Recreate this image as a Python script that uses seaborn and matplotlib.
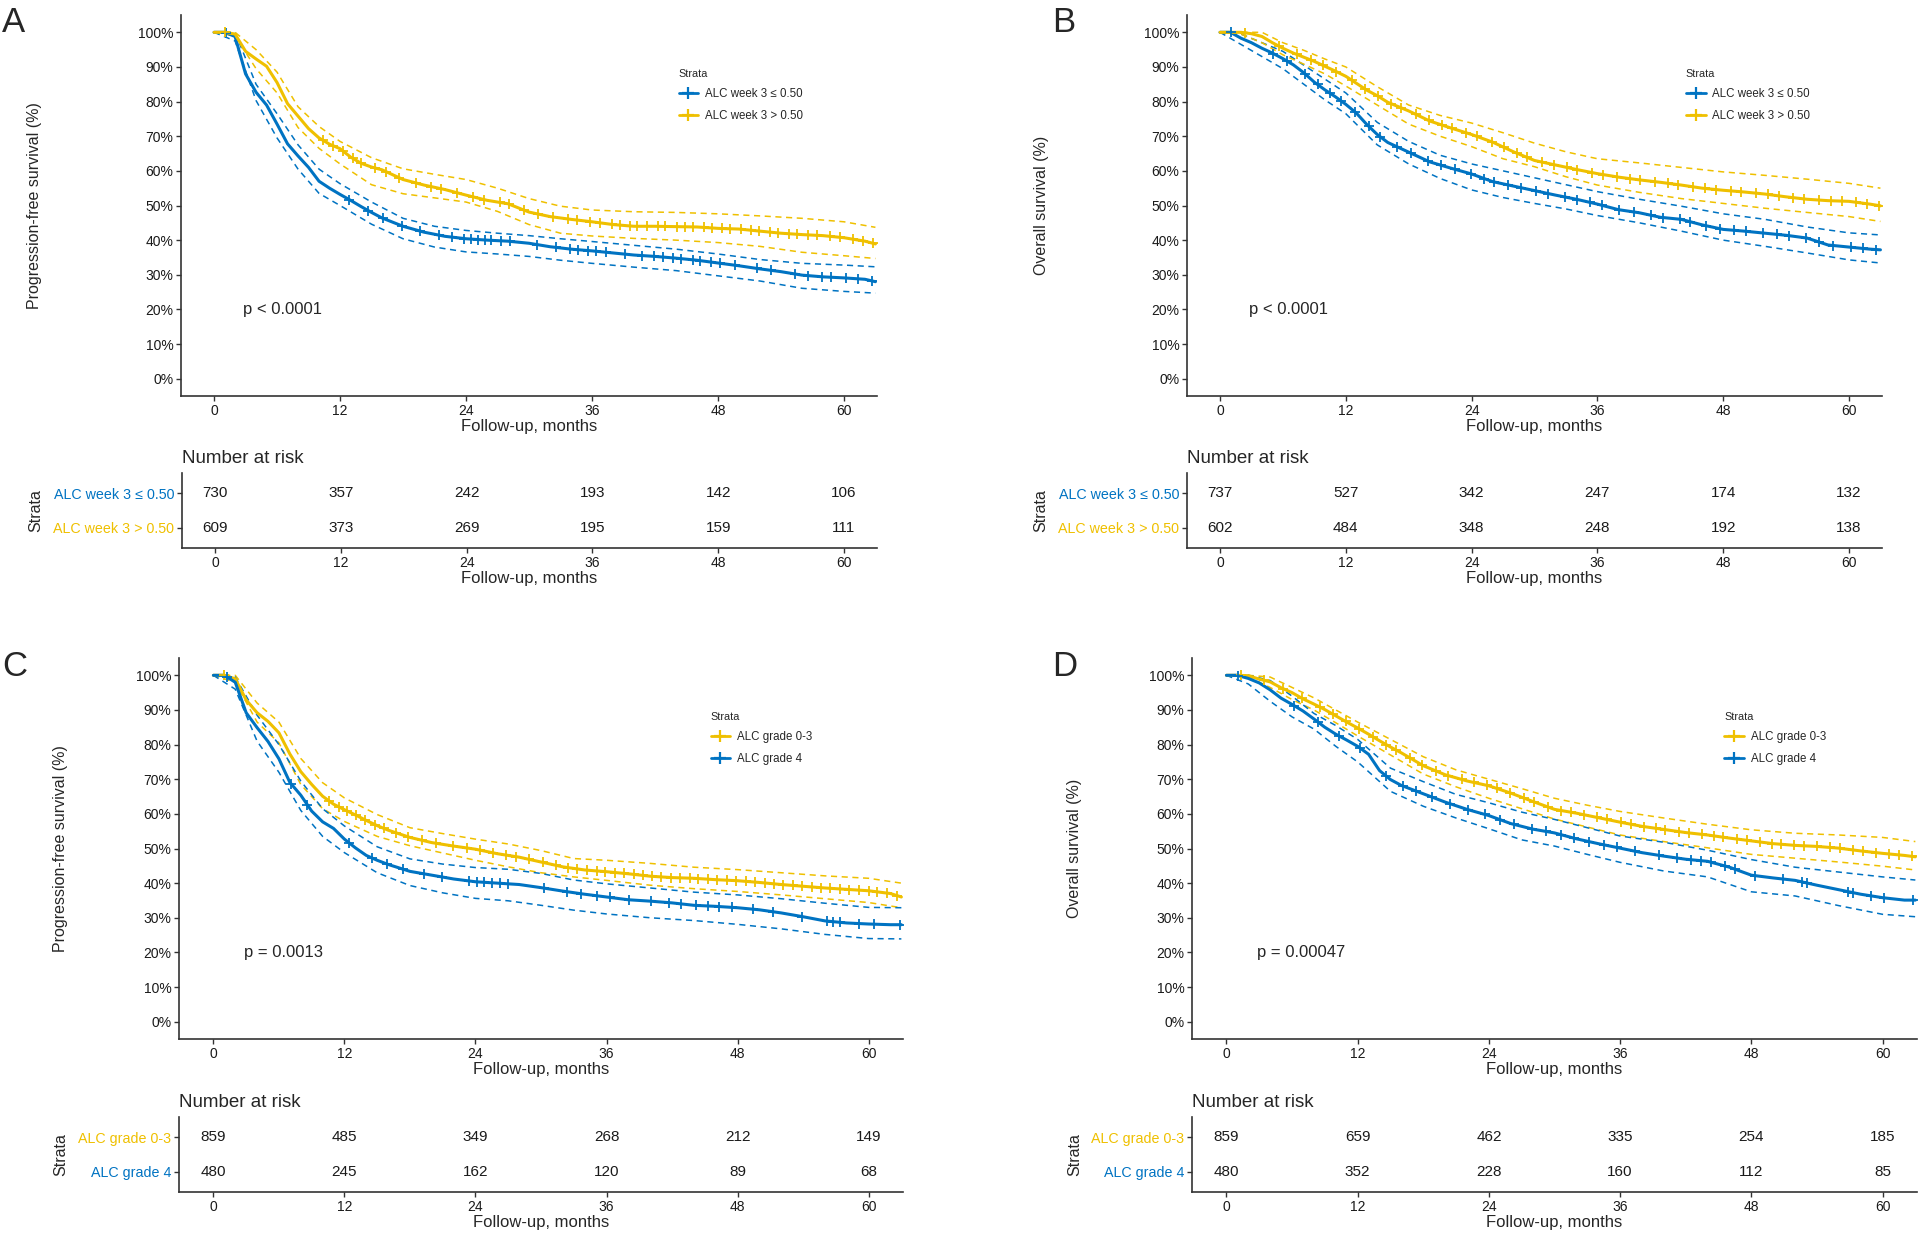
import numpy as np
import matplotlib
matplotlib.use("Agg")
import matplotlib.pyplot as plt
from matplotlib.lines import Line2D
import seaborn as sns

BLUE = "#0073C2"
YELLOW = "#EFC000"

# time grids (months) for the estimates and for the confidence bands
T = [0, 1, 2, 3, 4, 5, 6, 7, 8, 9, 10, 11, 12, 13, 14, 15, 16, 18, 20, 22, 24,
     26, 28, 30, 32, 34, 36, 38, 40, 42, 44, 46, 48, 50, 52, 54, 56, 58, 60, 62, 63]
TC = [0, 2, 4, 6, 8, 10, 12, 15, 18, 21, 24, 27, 30, 33, 36, 40, 44, 48, 52, 56, 60, 63]
RISK_T = [0, 12, 24, 36, 48, 60]

# ---- panel A: PFS, ALC week 3
A_LOW_EST = [100, 100, 98.8, 88, 82.7, 79, 73.5, 67.8, 64.3, 61, 57, 55, 53.2, 51.5, 49.7, 48, 46.4,
             44, 42.3, 41.1, 40.4, 40, 39.7, 39.1, 38.1, 37.4, 36.9, 36.3, 35.7, 35.3, 34.8, 34.2,
             33.4, 32.6, 31.7, 30.9, 29.9, 29.4, 29.1, 28.7, 28]
A_LOW_UP = [100, 100, 85, 76.5, 67.5, 60.5, 56.3, 51, 46.3, 44, 42.8, 42, 41.3, 40.4, 39.6, 38.5,
            37.4, 36, 34.4, 33.3, 32.8, 32.3]
A_LOW_LO = [100, 97.5, 80.3, 69.5, 60.5, 53.5, 50, 44.6, 40.4, 38, 36.6, 36, 35.3, 34.2, 33.3, 32.2,
            31.2, 29.7, 28.2, 26.1, 25.2, 24.7]
A_LOW_CENS = [1.1, 12.9, 14.7, 16.1, 17.9, 19.6, 21.4, 22.7, 23.8, 24.5, 25.1, 25.8, 26.4, 27.3,
              28.2, 30.8, 32.6, 33.9, 34.7, 35.6, 36.4, 37.3, 39.1, 40.8, 41.9, 42.8, 43.7, 44.5,
              45.6, 46.3, 47.3, 48.2, 49.6, 51.7, 53.1, 55.3, 56.6, 57.9, 58.8, 60.2, 61.3, 62.7]
A_HIGH_EST = [100, 100, 99.5, 94.5, 92.3, 90.2, 85.5, 79.4, 75.8, 72.2, 69.5, 67.7, 66.4, 64, 62.2,
              61.1, 60.3, 57.5, 55.9, 54.6, 53, 51.5, 50.5, 48.1, 46.8, 46, 45.3, 44.5, 44, 44, 43.9,
              43.8, 43.4, 43.2, 42.6, 42, 41.6, 41.3, 40.7, 39.7, 38.9]
A_HIGH_UP = [100, 100, 95, 88.5, 78.5, 72.8, 68.5, 63.8, 60.6, 59, 57.5, 55, 52, 49.8, 48.7, 48.2,
             48, 47.6, 47, 46.3, 45.3, 43.7]
A_HIGH_LO = [100, 99, 89.5, 82.5, 72.5, 66.5, 62, 56, 53.4, 52.2, 51, 48.3, 44.5, 42, 41.2, 40.5,
             40, 39.3, 38.2, 36.5, 35.5, 34.7]
A_HIGH_CENS = [1.0, 10.4, 11.3, 12.3, 13.2, 14.0, 15.3, 16.4, 17.6, 19.2, 20.7, 21.6, 23.1, 24.7,
               25.7, 27.2, 28.1, 29.5, 30.9, 32.3, 33.7, 34.6, 35.8, 36.8, 37.9, 38.7, 39.6, 40.3,
               41.2, 42.3, 43.0, 44.1, 44.9, 45.6, 46.7, 47.4, 48.4, 49.1, 50.2, 51.1, 51.9, 53.0,
               53.7, 54.8, 55.5, 56.6, 57.4, 58.7, 59.6, 60.9, 61.8, 62.8]
A_RISK_LOW = [730, 357, 242, 193, 142, 106]
A_RISK_HIGH = [609, 373, 269, 195, 159, 111]

# ---- panel B: OS, ALC week 3
B_LOW_EST = [100, 100, 98.3, 97, 95.4, 94, 92.4, 90.6, 88.3, 85.6, 83.4, 81.4, 79.2, 76.7, 73.4,
             70.5, 68.2, 65.4, 62.6, 60.8, 59.1, 56.9, 55.6, 54.3, 53, 51.8, 50.4, 48.8, 47.9, 46.6,
             46, 44.4, 43.1, 42.6, 42, 41.4, 40.6, 38.6, 38, 37.4, 37.2]
B_LOW_UP = [100, 99.5, 97, 94.5, 90.5, 86.5, 82.5, 74, 68.5, 64.5, 62, 60, 58, 56, 54, 51.8, 49.8,
            47.6, 46, 43.8, 42.1, 41.5]
B_LOW_LO = [100, 96.5, 93, 89.5, 85, 80.5, 76.5, 67.5, 62, 57.8, 54.5, 52.3, 50.6, 49, 47.1, 45,
            42.6, 40, 38.2, 36.3, 34.3, 33.4]
B_LOW_CENS = [1.0, 5.1, 6.4, 8.1, 9.3, 10.5, 11.5, 12.9, 14.2, 15.3, 16.9, 18.2, 19.8, 21.1, 22.4,
              23.9, 25.2, 26.1, 27.5, 28.7, 30.1, 31.3, 32.9, 34.1, 35.3, 36.4, 38.1, 39.5, 41.1,
              42.3, 43.9, 44.8, 46.4, 47.7, 49.0, 50.2, 51.8, 53.1, 54.3, 55.9, 57.1, 58.5, 60.2,
              61.3, 62.6]
B_HIGH_EST = [100, 100, 100, 99.6, 98.8, 97, 95.4, 94, 92.8, 91.6, 90.2, 88.8, 87.3, 85.3, 83.3,
              81.7, 79.8, 77.3, 74.4, 72.4, 70.5, 68.3, 65.5, 63, 61.7, 60.4, 59.2, 58.2, 57.4, 56.7,
              55.9, 55, 54.4, 53.9, 53.3, 52.5, 51.8, 51.4, 51.2, 50.4, 49.9]
B_HIGH_UP = [100, 100, 100, 97, 94.8, 92.3, 90, 84.3, 79, 76, 73.8, 71, 68, 65.5, 63.5, 62.3, 61,
             59.7, 58.7, 57.6, 56.4, 55]
B_HIGH_LO = [100, 99.5, 97, 93.5, 90.8, 88, 84.5, 79, 73.5, 70, 67, 63.5, 61.2, 58.3, 55.9, 53.8,
             52, 50.6, 49.2, 48, 46.8, 45.4]
B_HIGH_CENS = [2.4, 5.6, 7.3, 8.7, 9.8, 11.1, 12.6, 13.8, 15.1, 16.3, 17.3, 18.7, 19.9, 21.2, 22.1,
               23.5, 24.5, 25.9, 27.1, 28.3, 29.3, 30.7, 31.9, 33.1, 34.1, 35.5, 36.5, 37.9, 39.1,
               40.1, 41.5, 42.7, 43.7, 45.1, 46.3, 47.3, 48.7, 49.7, 51.1, 52.3, 53.3, 54.7, 55.7,
               57.1, 58.3, 59.3, 60.7, 61.7, 62.9]
B_RISK_LOW = [737, 527, 342, 247, 174, 132]
B_RISK_HIGH = [602, 484, 348, 248, 192, 138]

# ---- panel C: PFS, ALC grade
C_G03_EST = [100, 100, 99, 92.9, 89.2, 86.7, 83.4, 77.3, 72.2, 68.5, 65.1, 62.8, 61.2, 59.7, 58.1,
             56.6, 55.3, 53.2, 51.7, 50.7, 49.8, 48.5, 47.5, 46.1, 44.7, 43.8, 43.3, 42.7, 42, 41.6,
             41.4, 41, 40.7, 40.2, 39.6, 39.1, 38.6, 38.2, 37.8, 37, 36]
C_G03_UP = [100, 100, 92, 86.5, 76, 69, 64.6, 59.8, 56, 54.3, 52.7, 51.3, 49.4, 47.1, 46.6, 45.7,
            44.6, 43.9, 43, 42.1, 41.4, 40]
C_G03_LO = [100, 98, 86.5, 80.5, 68.5, 61.5, 57.8, 53.5, 50.8, 48.7, 46.6, 44.7, 43, 41.8, 40.8,
            39.4, 38.4, 37.6, 36.6, 35.5, 34.4, 32.9]
C_G03_CENS = [1.0, 10.6, 11.5, 12.2, 13.1, 13.9, 14.8, 15.6, 16.7, 17.8, 19.1, 20.4, 21.9, 23.2,
              24.4, 25.6, 26.8, 27.7, 28.9, 30.2, 31.4, 32.5, 33.3, 34.2, 35.1, 35.9, 36.8, 37.6,
              38.5, 39.3, 40.2, 41.0, 41.9, 42.7, 43.6, 44.4, 45.3, 46.1, 47.0, 47.9, 48.8, 49.6,
              50.5, 51.3, 52.2, 53.1, 53.9, 54.8, 55.6, 56.5, 57.4, 58.2, 59.1, 60.0, 60.8, 61.7,
              62.6]
C_G4_EST = [100, 100, 98, 89.2, 84.9, 80.9, 75.9, 69.1, 65.4, 60.8, 57.7, 55.8, 52.7, 50.2, 48,
            46.6, 45.4, 43.4, 42.3, 41.2, 40.4, 40, 39.6, 38.7, 37.7, 36.8, 36, 35.2, 34.8, 34.3,
            33.6, 33.3, 32.9, 32.3, 31.4, 30.3, 29.1, 28.5, 28.2, 28, 28]
C_G4_UP = [100, 99.5, 88.5, 80, 69.5, 61.5, 56.5, 50.5, 47, 45.5, 44.5, 44, 42.8, 40.9, 39.8, 38.6,
           37.4, 36.6, 35.5, 34.2, 33, 32.9]
C_G4_LO = [100, 96, 81, 72, 61, 53.5, 48.8, 43, 39.3, 37.2, 35.6, 34.9, 33.6, 32.2, 31.1, 30, 29.2,
           28.1, 26.8, 25.2, 24, 23.9]
C_G4_CENS = [1.2, 7.1, 8.6, 12.4, 14.5, 15.9, 17.4, 19.3, 20.9, 23.4, 24.1, 24.8, 25.5, 26.2, 27.0,
             30.3, 32.4, 33.7, 35.1, 36.3, 38.1, 40.1, 41.7, 42.8, 44.2, 45.3, 46.3, 47.5, 49.4,
             51.2, 53.9, 56.2, 56.7, 57.4, 59.1, 60.5, 62.9]
C_RISK_G03 = [859, 485, 349, 268, 212, 149]
C_RISK_G4 = [480, 245, 162, 120, 89, 68]

# ---- panel D: OS, ALC grade
D_G03_EST = [100, 100, 99.9, 98.9, 98.1, 96.4, 95, 93.2, 91.7, 90.1, 88.3, 86.5, 84.8, 83, 81.1,
             79.3, 77.6, 73.9, 71.3, 69.5, 68.1, 66, 63.6, 61.3, 60.2, 58.9, 57.6, 56.4, 55.5, 54.6,
             53.9, 53, 52.2, 51.4, 50.9, 50.6, 50.1, 49.3, 48.6, 48, 47.6]
D_G03_UP = [100, 100, 99.5, 96.5, 93.5, 90, 86.5, 81.5, 76.5, 72.7, 70, 67.3, 64.5, 62.5, 60.7,
            58.8, 57, 55.4, 54.4, 53.9, 53.2, 52]
D_G03_LO = [100, 99.5, 96.5, 93, 90, 86.3, 82.5, 77, 71.5, 67.8, 64.5, 61.5, 58.5, 56.2, 53.9, 52,
            50.2, 48.3, 47.2, 46.1, 44.9, 43.8]
D_G03_CENS = [1.3, 3.4, 5.2, 6.9, 8.6, 9.7, 10.9, 12.1, 13.4, 14.6, 15.5, 16.8, 17.9, 19.2, 20.3,
              21.5, 22.6, 23.8, 24.7, 25.9, 27.2, 28.1, 29.4, 30.6, 31.5, 32.7, 33.9, 34.8, 36.1,
              37.0, 38.2, 39.3, 40.1, 41.4, 42.3, 43.5, 44.6, 45.4, 46.7, 47.6, 48.8, 49.9, 50.7,
              51.9, 52.8, 54.0, 55.2, 56.1, 57.3, 58.2, 59.4, 60.6, 61.5, 62.7]
D_G4_EST = [100, 100, 99.1, 97.8, 95.8, 93.4, 91.6, 89.7, 87.4, 85, 83, 81.3, 79.5, 77.2, 72.5,
            69.9, 68.2, 65.8, 63.4, 61.3, 59.5, 57.2, 55.6, 54.5, 52.8, 51.4, 50.1, 48.8, 47.8,
            46.9, 46.3, 44.6, 42.3, 41.5, 40.8, 39.4, 38.1, 36.8, 35.8, 35.1, 35.1]
D_G4_UP = [100, 100, 98.5, 94, 89, 85.5, 81.5, 73.2, 69.3, 65.6, 63.2, 60.5, 58.4, 56, 53.6, 51.8,
           49.5, 46.8, 44.6, 43.2, 41.8, 40.9]
D_G4_LO = [100, 97.5, 92.5, 88, 84.5, 79.5, 75, 66.5, 62.2, 58.8, 55.7, 52.5, 50.7, 48.3, 46, 43.5,
           41.8, 37.5, 36.3, 33.5, 31, 30.3]
D_G4_CENS = [1.1, 6.2, 8.4, 10.3, 12.2, 14.6, 16.1, 17.3, 18.8, 20.4, 22.1, 23.6, 25.0, 26.3, 27.9,
             29.2, 30.6, 31.8, 33.2, 34.5, 35.7, 37.4, 39.6, 41.2, 42.5, 43.4, 44.3, 45.6, 46.5,
             48.3, 50.9, 52.6, 53.1, 56.8, 57.3, 58.9, 60.1, 62.8]
D_RISK_G03 = [859, 659, 462, 335, 254, 185]
D_RISK_G4 = [480, 352, 228, 160, 112, 85]

W, H = 1920, 1234


def px_axes(fig, x0, y0, x1, y1):
    """add axes from pixel box (top-left origin)"""
    return fig.add_axes([x0 / W, 1 - y1 / H, (x1 - x0) / W, (y1 - y0) / H])


def style_axis(ax):
    for s in ["top", "right"]:
        ax.spines[s].set_visible(False)
    for s in ["left", "bottom"]:
        ax.spines[s].set_linewidth(1.2)
        ax.spines[s].set_color("#333333")
    ax.tick_params(labelsize=10, length=3.5, width=1, color="#333333", pad=2,
                   labelcolor="#1a1a1a")


def draw_panel(fig, box, tbox, letter, ylabel, pval, curves, leg_x, ylab_x):
    ax = px_axes(fig, *box)
    for c in curves:
        for band in (c["lo"], c["up"]):
            sns.lineplot(x=TC, y=band, color=c["color"], linewidth=1.1, ax=ax,
                         estimator=None, sort=False, linestyle=(0, (4, 3)))
    for c in curves:
        sns.lineplot(x=T, y=c["est"], color=c["color"], linewidth=2.2, ax=ax,
                     estimator=None, sort=False)
        cy = np.interp(c["cens"], T, c["est"])
        sns.scatterplot(x=c["cens"], y=cy, marker="+", color=c["color"], s=60,
                        linewidth=1.3, ax=ax, legend=False, zorder=4)

    ax.set_xlim(-3.15, 63.15)
    ax.set_ylim(-5, 105)
    ax.set_xticks(RISK_T)
    ax.set_yticks(range(0, 101, 10))
    ax.set_yticklabels([f"{v}%" for v in range(0, 101, 10)])
    style_axis(ax)
    ax.set_xlabel("Follow-up, months", fontsize=12, labelpad=1)
    ax.set_ylabel(ylabel, fontsize=11.5)
    ax.yaxis.set_label_coords(ylab_x, 0.5)
    ax.text(2.8, 20, pval, fontsize=12, ha="left", va="center")

    handles = [Line2D([], [], color=c["color"], lw=2, marker="+", markersize=9, mew=1.6)
               for c in curves]
    ax.legend(handles, [c["label"] for c in curves], title="Strata", loc="upper left",
              bbox_to_anchor=(leg_x, 0.885), frameon=False, fontsize=8.3,
              title_fontsize=7.8, alignment="left", handlelength=1.7,
              handletextpad=0.6, labelspacing=0.8)

    # risk table
    at = px_axes(fig, *tbox)
    n = len(curves)
    for i, c in enumerate(curves):
        yrow = n - i
        for t, v in zip(RISK_T, c["risk"]):
            at.text(t, yrow, str(v), ha="center", va="center", fontsize=11, color="#1a1a1a")
    at.set_xlim(-3.15, 63.15)
    at.set_ylim(0.4, n + 0.6)
    at.set_xticks(RISK_T)
    at.set_yticks([n - i for i in range(n)])
    at.set_yticklabels([c["label"] for c in curves])
    style_axis(at)
    at.tick_params(axis="y", labelsize=10.3)
    for lab, c in zip(at.get_yticklabels(), curves):
        lab.set_color(c["color"])
    at.set_xlabel("Follow-up, months", fontsize=12, labelpad=1)
    at.set_ylabel("Strata", fontsize=11.5)
    at.yaxis.set_label_coords(ylab_x, 0.5)
    at.set_title("Number at risk", loc="left", fontsize=13.5, pad=7)

    fig.text(letter[1] / W, 1 - letter[2] / H, letter[0], fontsize=25, ha="left", va="top")
    return ax


sns.set_theme(style="ticks")
plt.rcParams["font.family"] = ["Liberation Sans", "DejaVu Sans"]

fig = plt.figure(figsize=(19.2, 12.34), dpi=100)

LOW_A = "ALC week 3 \u2264 0.50"
HIGH_A = "ALC week 3 > 0.50"

draw_panel(fig, (181, 15, 877, 396), (182, 473, 877, 548), ("A", 2, 6),
           "Progression-free survival (%)", "p < 0.0001",
           [dict(label=LOW_A, color=BLUE, est=A_LOW_EST, up=A_LOW_UP, lo=A_LOW_LO,
                 cens=A_LOW_CENS, risk=A_RISK_LOW),
            dict(label=HIGH_A, color=YELLOW, est=A_HIGH_EST, up=A_HIGH_UP, lo=A_HIGH_LO,
                 cens=A_HIGH_CENS, risk=A_RISK_HIGH)],
           leg_x=0.70, ylab_x=-0.199)

draw_panel(fig, (1187, 15, 1882, 396), (1187, 473, 1882, 548), ("B", 1052, 6),
           "Overall survival (%)", "p < 0.0001",
           [dict(label=LOW_A, color=BLUE, est=B_LOW_EST, up=B_LOW_UP, lo=B_LOW_LO,
                 cens=B_LOW_CENS, risk=B_RISK_LOW),
            dict(label=HIGH_A, color=YELLOW, est=B_HIGH_EST, up=B_HIGH_UP, lo=B_HIGH_LO,
                 cens=B_HIGH_CENS, risk=B_RISK_HIGH)],
           leg_x=0.703, ylab_x=-0.199)

draw_panel(fig, (179, 658, 903, 1039), (179, 1117, 903, 1192), ("C", 2, 650),
           "Progression-free survival (%)", "p = 0.0013",
           [dict(label="ALC grade 0-3", color=YELLOW, est=C_G03_EST, up=C_G03_UP, lo=C_G03_LO,
                 cens=C_G03_CENS, risk=C_RISK_G03),
            dict(label="ALC grade 4", color=BLUE, est=C_G4_EST, up=C_G4_UP, lo=C_G4_LO,
                 cens=C_G4_CENS, risk=C_RISK_G4)],
           leg_x=0.72, ylab_x=-0.153)

draw_panel(fig, (1192, 658, 1917, 1039), (1192, 1117, 1917, 1192), ("D", 1052, 650),
           "Overall survival (%)", "p = 0.00047",
           [dict(label="ALC grade 0-3", color=YELLOW, est=D_G03_EST, up=D_G03_UP, lo=D_G03_LO,
                 cens=D_G03_CENS, risk=D_RISK_G03),
            dict(label="ALC grade 4", color=BLUE, est=D_G4_EST, up=D_G4_UP, lo=D_G4_LO,
                 cens=D_G4_CENS, risk=D_RISK_G4)],
           leg_x=0.72, ylab_x=-0.152)

fig.savefig("out.png", dpi=100, facecolor="white")
